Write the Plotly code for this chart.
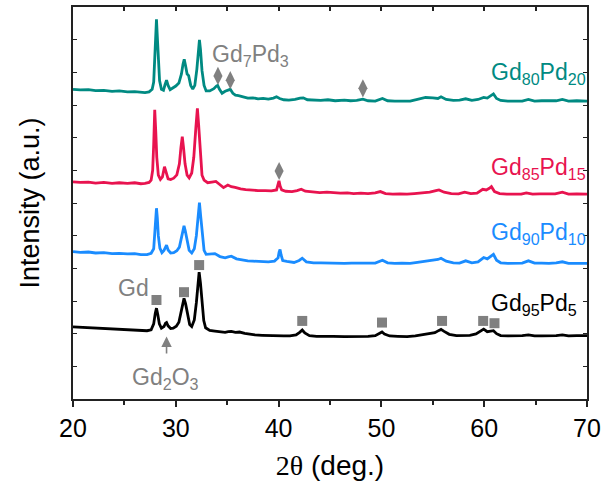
import plotly.graph_objects as go

# 2-theta (deg) / stacked intensity (a.u.) pairs for each alloy
gd80pd20 = [
    (20.0, 9.48), (20.7, 9.46), (21.5, 9.47), (22.2, 9.44), (23.0, 9.45), (23.8, 9.42), (24.5, 9.43),
    (25.3, 9.40), (26.0, 9.41), (26.6, 9.38), (27.0, 9.38), (27.4, 9.40), (27.7, 9.48), (27.85, 9.70),
    (27.97, 10.40), (28.05, 11.10), (28.12, 11.62), (28.2, 11.10), (28.3, 10.30), (28.42, 9.75),
    (28.6, 9.48), (28.8, 9.45), (28.95, 9.62), (29.1, 9.76), (29.25, 9.60), (29.45, 9.47), (29.7, 9.52),
    (30.0, 9.58), (30.3, 9.67), (30.55, 9.95), (30.7, 10.25), (30.82, 10.40), (30.95, 10.20),
    (31.1, 9.95), (31.25, 9.90), (31.45, 9.60), (31.65, 9.49), (31.85, 9.60), (32.05, 10.10),
    (32.2, 10.75), (32.3, 10.99), (32.4, 10.70), (32.55, 10.05), (32.75, 9.60), (32.95, 9.43),
    (33.3, 9.43), (33.7, 9.50), (33.95, 9.58), (34.07, 9.60), (34.25, 9.48), (34.5, 9.36), (34.8, 9.42),
    (35.1, 9.46), (35.3, 9.48), (35.55, 9.36), (35.8, 9.30), (36.1, 9.29), (36.6, 9.24), (37.0, 9.21),
    (37.5, 9.22), (38.0, 9.19), (38.5, 9.20), (39.0, 9.18), (39.5, 9.21), (39.8, 9.25), (40.1, 9.20),
    (40.5, 9.16), (41.0, 9.15), (41.6, 9.17), (42.1, 9.21), (42.4, 9.22), (42.8, 9.16), (43.4, 9.15),
    (44.1, 9.14), (44.8, 9.16), (45.5, 9.13), (46.4, 9.15), (47.0, 9.13), (47.6, 9.14), (48.2, 9.18),
    (48.7, 9.13), (49.4, 9.12), (50.1, 9.20), (50.6, 9.13), (51.3, 9.12), (52.0, 9.13), (52.8, 9.12),
    (53.5, 9.17), (54.3, 9.23), (55.0, 9.22), (55.5, 9.20), (55.8, 9.25), (56.3, 9.17), (57.0, 9.14),
    (57.6, 9.15), (58.2, 9.19), (58.8, 9.14), (59.4, 9.17), (59.95, 9.23), (60.3, 9.21), (60.7, 9.28),
    (60.9, 9.34), (61.2, 9.20), (61.6, 9.14), (62.3, 9.12), (63.0, 9.13), (63.7, 9.12), (64.3, 9.17),
    (64.9, 9.12), (65.6, 9.13), (66.3, 9.12), (67.0, 9.13), (67.6, 9.17), (68.2, 9.12), (69.0, 9.13),
    (70.0, 9.12),
]

gd85pd15 = [
    (20.0, 6.65), (20.7, 6.63), (21.5, 6.64), (22.2, 6.61), (23.0, 6.63), (23.8, 6.60), (24.5, 6.62),
    (25.3, 6.60), (26.0, 6.62), (26.6, 6.59), (27.0, 6.60), (27.4, 6.63), (27.6, 6.70), (27.75, 7.00),
    (27.85, 7.80), (27.95, 8.85), (28.05, 8.20), (28.15, 7.40), (28.3, 6.85), (28.5, 6.72), (28.7, 6.80),
    (28.9, 7.11), (29.05, 6.95), (29.25, 6.74), (29.5, 6.72), (29.8, 6.76), (30.1, 6.86), (30.35, 7.20),
    (30.5, 7.70), (30.63, 8.03), (30.75, 7.70), (30.9, 7.20), (31.1, 6.85), (31.3, 6.77), (31.55, 6.92),
    (31.75, 7.40), (31.95, 8.30), (32.1, 8.90), (32.22, 8.40), (32.38, 7.50), (32.55, 6.85),
    (32.75, 6.70), (33.1, 6.62), (33.5, 6.64), (33.9, 6.66), (34.3, 6.56), (34.64, 6.47), (35.06, 6.55),
    (35.4, 6.50), (35.77, 6.48), (36.3, 6.43), (36.8, 6.41), (37.4, 6.39), (38.0, 6.38), (38.7, 6.38),
    (39.3, 6.37), (39.8, 6.40), (39.95, 6.55), (40.04, 6.68), (40.15, 6.52), (40.3, 6.40), (40.7, 6.36),
    (41.3, 6.35), (41.8, 6.38), (42.2, 6.42), (42.6, 6.36), (43.3, 6.34), (44.0, 6.32), (44.7, 6.33),
    (45.4, 6.31), (46.0, 6.30), (46.7, 6.31), (47.3, 6.29), (48.0, 6.30), (48.7, 6.29), (49.4, 6.31),
    (49.9, 6.35), (50.4, 6.29), (51.1, 6.27), (51.8, 6.28), (52.5, 6.27), (53.2, 6.29), (54.0, 6.31),
    (54.7, 6.33), (55.3, 6.38), (55.6, 6.40), (56.1, 6.33), (56.8, 6.29), (57.5, 6.28), (58.1, 6.33),
    (58.7, 6.29), (59.3, 6.30), (59.86, 6.42), (60.2, 6.40), (60.5, 6.45), (60.7, 6.50), (61.0, 6.35),
    (61.5, 6.29), (62.2, 6.27), (63.0, 6.28), (63.6, 6.27), (64.1, 6.31), (64.7, 6.27), (65.4, 6.28),
    (66.1, 6.27), (66.9, 6.28), (67.6, 6.33), (68.2, 6.27), (69.0, 6.28), (70.0, 6.27),
]

gd90pd10 = [
    (20.0, 4.51), (20.7, 4.49), (21.5, 4.50), (22.2, 4.47), (23.0, 4.48), (23.8, 4.45), (24.5, 4.46),
    (25.3, 4.44), (26.0, 4.45), (26.6, 4.42), (27.2, 4.42), (27.6, 4.46), (27.85, 4.60), (27.97, 5.10),
    (28.05, 5.60), (28.12, 5.84), (28.2, 5.55), (28.3, 5.00), (28.45, 4.62), (28.65, 4.48), (28.85, 4.55),
    (29.0, 4.68), (29.1, 4.71), (29.25, 4.56), (29.5, 4.47), (29.8, 4.48), (30.1, 4.54), (30.35, 4.65),
    (30.55, 4.95), (30.7, 5.22), (30.8, 5.30), (30.92, 5.15), (31.1, 4.80), (31.3, 4.55), (31.55, 4.47),
    (31.8, 4.60), (32.0, 5.00), (32.15, 5.60), (32.3, 6.01), (32.42, 5.60), (32.58, 4.95), (32.75, 4.55),
    (32.95, 4.43), (33.4, 4.44), (33.8, 4.45), (34.3, 4.36), (34.8, 4.32), (35.1, 4.35), (35.4, 4.37),
    (35.9, 4.29), (36.4, 4.26), (37.0, 4.23), (37.5, 4.22), (38.2, 4.21), (39.0, 4.20), (39.6, 4.22),
    (39.95, 4.32), (40.05, 4.50), (40.14, 4.58), (40.25, 4.40), (40.4, 4.24), (40.8, 4.21), (41.5, 4.18),
    (42.0, 4.24), (42.3, 4.31), (42.7, 4.20), (43.4, 4.17), (44.1, 4.17), (44.8, 4.16), (45.5, 4.16),
    (46.4, 4.15), (47.1, 4.16), (47.8, 4.15), (48.5, 4.16), (49.4, 4.16), (50.1, 4.25), (50.6, 4.17),
    (51.3, 4.15), (52.0, 4.16), (52.8, 4.15), (53.5, 4.18), (54.3, 4.22), (55.0, 4.25), (55.5, 4.27),
    (55.8, 4.31), (56.3, 4.22), (57.0, 4.17), (57.6, 4.16), (58.2, 4.23), (58.8, 4.17), (59.4, 4.20),
    (59.95, 4.33), (60.3, 4.29), (60.6, 4.35), (60.9, 4.43), (61.2, 4.25), (61.6, 4.17), (62.3, 4.15),
    (63.0, 4.16), (63.7, 4.16), (64.3, 4.23), (64.9, 4.16), (65.6, 4.16), (66.3, 4.15), (67.0, 4.17),
    (67.6, 4.20), (68.2, 4.15), (69.0, 4.16), (70.0, 4.15),
]

gd95pd5 = [
    (20.0, 2.21), (20.7, 2.20), (21.5, 2.19), (22.2, 2.18), (23.0, 2.17), (23.8, 2.15), (24.5, 2.14),
    (25.3, 2.13), (26.0, 2.11), (26.6, 2.11), (27.2, 2.09), (27.6, 2.12), (27.85, 2.30), (28.0, 2.62),
    (28.12, 2.78), (28.25, 2.58), (28.4, 2.30), (28.6, 2.17), (28.85, 2.22), (29.0, 2.32), (29.1, 2.34),
    (29.25, 2.24), (29.5, 2.16), (29.75, 2.17), (30.05, 2.23), (30.3, 2.35), (30.5, 2.62), (30.65, 2.92),
    (30.8, 3.08), (30.95, 2.92), (31.15, 2.55), (31.35, 2.28), (31.55, 2.22), (31.8, 2.42), (32.0, 2.95),
    (32.15, 3.55), (32.27, 3.88), (32.4, 3.55), (32.55, 2.95), (32.72, 2.40), (32.9, 2.18), (33.3, 2.10),
    (33.8, 2.08), (34.3, 2.05), (34.8, 2.04), (35.1, 2.06), (35.4, 2.07), (35.8, 2.04), (36.2, 2.05),
    (36.7, 2.01), (37.2, 1.98), (37.7, 1.96), (38.4, 1.95), (39.0, 1.94), (39.7, 1.94), (40.5, 1.93),
    (41.1, 1.93), (41.7, 1.96), (42.05, 2.04), (42.3, 2.11), (42.55, 2.02), (43.0, 1.94), (43.7, 1.92),
    (44.5, 1.91), (45.3, 1.92), (46.4, 1.91), (47.2, 1.91), (48.0, 1.91), (48.7, 1.92), (49.4, 1.94),
    (49.8, 2.00), (50.06, 2.05), (50.3, 1.99), (50.8, 1.93), (51.6, 1.92), (52.5, 1.91), (53.3, 1.93),
    (54.0, 1.96), (54.7, 2.00), (55.2, 2.03), (55.6, 2.10), (55.8, 2.13), (56.1, 2.07), (56.6, 1.98),
    (57.3, 1.94), (58.0, 1.94), (58.6, 1.95), (59.2, 1.99), (59.6, 2.06), (59.95, 2.14), (60.3, 2.06),
    (60.6, 2.07), (60.9, 2.09), (61.2, 2.00), (61.6, 1.94), (62.3, 1.93), (63.0, 1.93), (63.7, 1.94),
    (64.3, 1.96), (64.9, 1.93), (65.6, 1.93), (66.3, 1.93), (67.0, 1.94), (67.6, 1.96), (68.2, 1.93),
    (69.0, 1.94), (70.0, 1.94),
]

# phase reflections: Gd7Pd3 (diamonds) and Gd (squares)
gd7pd3_tt = [34.1, 35.3, 48.2, 40.05]
gd7pd3_y = [9.89, 9.76, 9.51, 6.98]
gd_tt = [28.12, 30.8, 32.27, 42.3, 50.06, 55.9, 59.9, 61.0]
gd_y = [3.03, 3.27, 4.10, 2.39, 2.34, 2.39, 2.39, 2.32]

labels = ["Gd<sub>80</sub>Pd<sub>20</sub>", "Gd<sub>85</sub>Pd<sub>15</sub>",
          "Gd<sub>90</sub>Pd<sub>10</sub>", "Gd<sub>95</sub>Pd<sub>5</sub>"]
label_y = [9.95, 7.07, 5.08, 2.88]
colors = ["#008a82", "#e8134f", "#1a8cff", "#000000"]
series = [gd80pd20, gd85pd15, gd90pd10, gd95pd5]

FONT = "Arial, Liberation Sans, sans-serif"
GRAY = "#808080"

fig = go.Figure()
for pts, c in zip(series, colors):
    fig.add_trace(go.Scatter(x=[p[0] for p in pts], y=[p[1] for p in pts], mode="lines",
                             line=dict(color=c, width=2.8), showlegend=False, hoverinfo="skip"))

fig.add_trace(go.Scatter(x=gd7pd3_tt, y=gd7pd3_y, mode="markers",
                         marker=dict(symbol="diamond-tall", size=13, color=GRAY),
                         showlegend=False))
fig.add_trace(go.Scatter(x=gd_tt, y=gd_y, mode="markers",
                         marker=dict(symbol="square", size=10, color=GRAY),
                         showlegend=False))

# empty trace so the top mirror axis is drawn
fig.add_trace(go.Scatter(x=[20, 70], y=[0, 0], xaxis="x2", mode="none",
                         showlegend=False, hoverinfo="skip"))

for txt, yy, c in zip(labels, label_y, colors):
    fig.add_annotation(x=60.46, y=yy, text=txt, showarrow=False, xanchor="left", yanchor="middle",
                       font=dict(family=FONT, size=23, color=c))

fig.add_annotation(x=33.3, y=10.53, text="Gd<sub>7</sub>Pd<sub>3</sub>", showarrow=False,
                   xanchor="left", yanchor="middle", font=dict(family=FONT, size=23, color=GRAY))
fig.add_annotation(x=25.88, y=3.40, text="Gd", showarrow=False,
                   font=dict(family=FONT, size=23, color=GRAY))
fig.add_annotation(x=28.96, y=0.64, text="Gd<sub>2</sub>O<sub>3</sub>", showarrow=False,
                   font=dict(family=FONT, size=23, color=GRAY))
fig.add_annotation(x=29.1, y=1.91, ax=29.1, ay=1.35, axref="x", ayref="y", text="",
                   showarrow=True, arrowhead=2, arrowsize=1.3, arrowwidth=1.6, arrowcolor=GRAY)

fig.update_layout(
    width=608, height=487,
    margin=dict(l=73, r=16, t=7, b=88),
    paper_bgcolor="white", plot_bgcolor="white",
    font=dict(family=FONT, color="black"),
    xaxis=dict(range=[20, 70], dtick=10, ticks="outside", ticklen=6, tickwidth=1.5,
               tickcolor="#222", showline=True, linecolor="#222", linewidth=2,
               showgrid=False, zeroline=False,
               tickfont=dict(family=FONT, size=25, color="black"),
               minor=dict(dtick=5, ticks="outside", ticklen=4, tickwidth=1.5, tickcolor="#222"),
               title=dict(text="<span style='font-family:Times New Roman, Liberation Serif, serif'>2θ</span> (deg.)",
                          font=dict(family=FONT, size=28, color="black"), standoff=14)),
    xaxis2=dict(range=[20, 70], overlaying="x", side="top", dtick=5, ticks="inside", ticklen=4,
                tickwidth=1.5, tickcolor="#222", showline=True, linecolor="#222", linewidth=2,
                showticklabels=False, showgrid=False, zeroline=False),
    yaxis=dict(range=[0, 12], dtick=1, ticks="inside", ticklen=4, tickwidth=1.2, tickcolor="#222",
               showline=True, linecolor="#222", linewidth=2, mirror="ticks",
               showticklabels=False, showgrid=False, zeroline=False,
               title=dict(text="Intensity (a.u.)", font=dict(family=FONT, size=27, color="black"),
                          standoff=24)),
)

fig.write_html("out.html")
